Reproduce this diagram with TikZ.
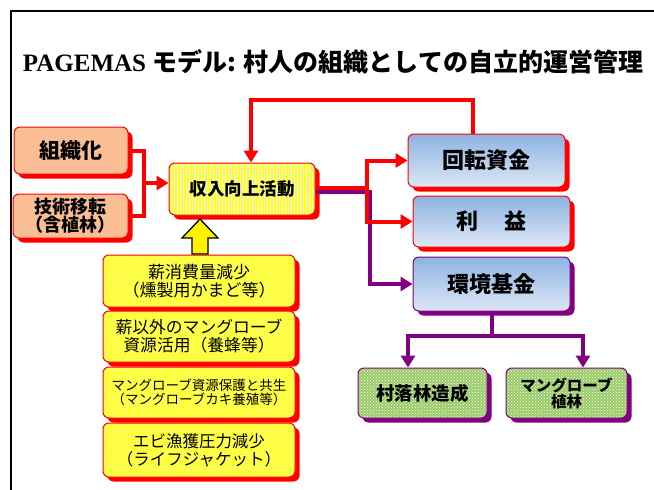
\documentclass[tikz,border=0pt]{standalone}
\usepackage{fontspec}
\setmainfont{Liberation Serif}
\newfontfamily\jp{Noto Sans CJK JP}
\usetikzlibrary{shadows,patterns,arrows.meta}
\definecolor{salmon}{HTML}{F9BE94}
\definecolor{purp}{HTML}{800080}
\definecolor{bluetop}{HTML}{8DB3E2}
\definecolor{bluebot}{HTML}{DDE7F5}
\definecolor{grn}{HTML}{99CC66}
\definecolor{yel}{HTML}{FFFF22}
\begin{document}
\begin{tikzpicture}[x=1pt,y=-1pt,
  rbox/.style={rounded corners=6pt, line width=1pt, align=center, inner sep=0pt, font=\jp\bfseries},
  redsh/.style={draw=red, drop shadow={shadow xshift=4.5pt, shadow yshift=-4.5pt, fill=red, opacity=1}},
  purpsh/.style={draw=purp, drop shadow={shadow xshift=4.5pt, shadow yshift=-4.5pt, fill=purp, opacity=1}},
  salmonbox/.style={rbox, redsh, fill=salmon},
  stripebox/.style={rbox, redsh, preaction={fill=yel}, pattern=vertical lines, pattern color=white},
  dotbox/.style={rbox, redsh, preaction={fill=yel}, pattern=crosshatch dots, pattern color=white, font=\jp},
  bluebox/.style={rbox, top color=bluetop, bottom color=bluebot},
  greenbox/.style={rbox, purpsh, preaction={fill=grn}, pattern=crosshatch dots, pattern color=white},
  redline/.style={draw=red, line width=4pt},
  purpline/.style={draw=purp, line width=4pt},
  redarrow/.style={redline, -{Triangle[length=12pt,width=14pt]}},
  purparrow/.style={purpline, -{Triangle[length=12pt,width=14pt]}},
]
\useasboundingbox (0,0) rectangle (654,490);
\draw[line width=1.5pt] (11,490) -- (11,11) -- (654,11);

\node (title) at (333,62) {\fontsize{25}{28}\selectfont\bfseries PAGEMAS {\jp モデル: 村人の組織としての自立的運営管理}};

\node[salmonbox, minimum width=114pt, minimum height=47pt, font=\jp\bfseries\fontsize{21}{24}\selectfont] (sosh) at (71,150.5) {組織化};
\node[salmonbox, minimum width=115pt, minimum height=44pt, font=\jp\bfseries\fontsize{18}{18}\selectfont] (gij) at (70.5,216) {技術移転\\（含植林）};
\node[stripebox, minimum width=146pt, minimum height=52pt, font=\jp\bfseries\fontsize{17.5}{20}\selectfont] (shu) at (242,189) {収入向上活動};

\node[bluebox, redsh, minimum width=157pt, minimum height=53pt, font=\jp\bfseries\fontsize{22}{24}\selectfont] (kai) at (486.5,160.5) {回転資金};
\node[bluebox, redsh, minimum width=157pt, minimum height=51pt, font=\jp\bfseries\fontsize{22}{24}\selectfont] (rie) at (491.5,221.5) {利\hspace{1.2em}益};
\node[bluebox, purpsh, minimum width=157pt, minimum height=54pt, font=\jp\bfseries\fontsize{22}{24}\selectfont] (kan) at (491.5,284) {環境基金};

\node[greenbox, minimum width=129pt, minimum height=50pt, font=\jp\bfseries\fontsize{18.5}{20}\selectfont] (son) at (422.5,393) {村落林造成};
\node[greenbox, minimum width=121pt, minimum height=50pt, font=\jp\bfseries\fontsize{15.5}{16}\selectfont] (man) at (566.5,393) {マングローブ\\植林};

\node[dotbox, minimum width=192pt, minimum height=52pt, font=\jp\fontsize{17}{18}\selectfont] (y1) at (199,281) {薪消費量減少\\（燻製用かまど等）};
\node[dotbox, minimum width=192pt, minimum height=51pt, font=\jp\fontsize{16.8}{18}\selectfont] (y2) at (199,336.5) {薪以外のマングローブ\\資源活用（養蜂等）};
\node[dotbox, minimum width=192pt, minimum height=51pt, font=\jp\fontsize{13.5}{14}\selectfont] (y3) at (199,392.5) {マングローブ資源保護と共生\\（マングローブカキ養殖等）};
\node[dotbox, minimum width=192pt, minimum height=54pt, font=\jp\fontsize{16.5}{18}\selectfont] (y4) at (199,450) {エビ漁獲圧力減少\\（ライフジャケット）};

% yellow block arrow
\draw[line width=1.3pt, fill=yellow] (192,254) -- (192,238) -- (182,238) -- (200,219) -- (218,238) -- (208,238) -- (208,254) -- cycle;

% left connectors
\draw[redline] (sosh.east) -- ++(15,0) coordinate (j1) |- (gij.east);
\coordinate (jm) at (143,183);
\draw[redarrow] (jm) -- (jm -| shu.west);

% feedback loop
\path (kai.north) ++(-13.5,0) coordinate (kt);
\path (shu.north) ++(9,0) coordinate (st);
\draw[redarrow] (kt) -- (kt |- 0,100) -| (st);

% right branches
\path (shu.east) ++(0,3) coordinate (sp);
\path (shu.east) ++(0,-1) coordinate (sr);
\draw[purparrow] (sp) -- ++(54,0) |- (kan.west);
\draw[redline] (sr) -- ++(51,0) coordinate (rj);
\draw[redarrow] (rj) |- (kai.west);
\draw[redarrow] (rj) |- (rie.west);

% bottom branches
\draw[purpline] (kan.south) -- ++(0,24) coordinate (kb);
\path (son.north) ++(-14.5,0) coordinate (sn);
\path (man.north) ++(16.5,0) coordinate (mn);
\draw[purparrow] (kb) -| (sn);
\draw[purparrow] (kb) -| (mn);
\end{tikzpicture}
\end{document}
